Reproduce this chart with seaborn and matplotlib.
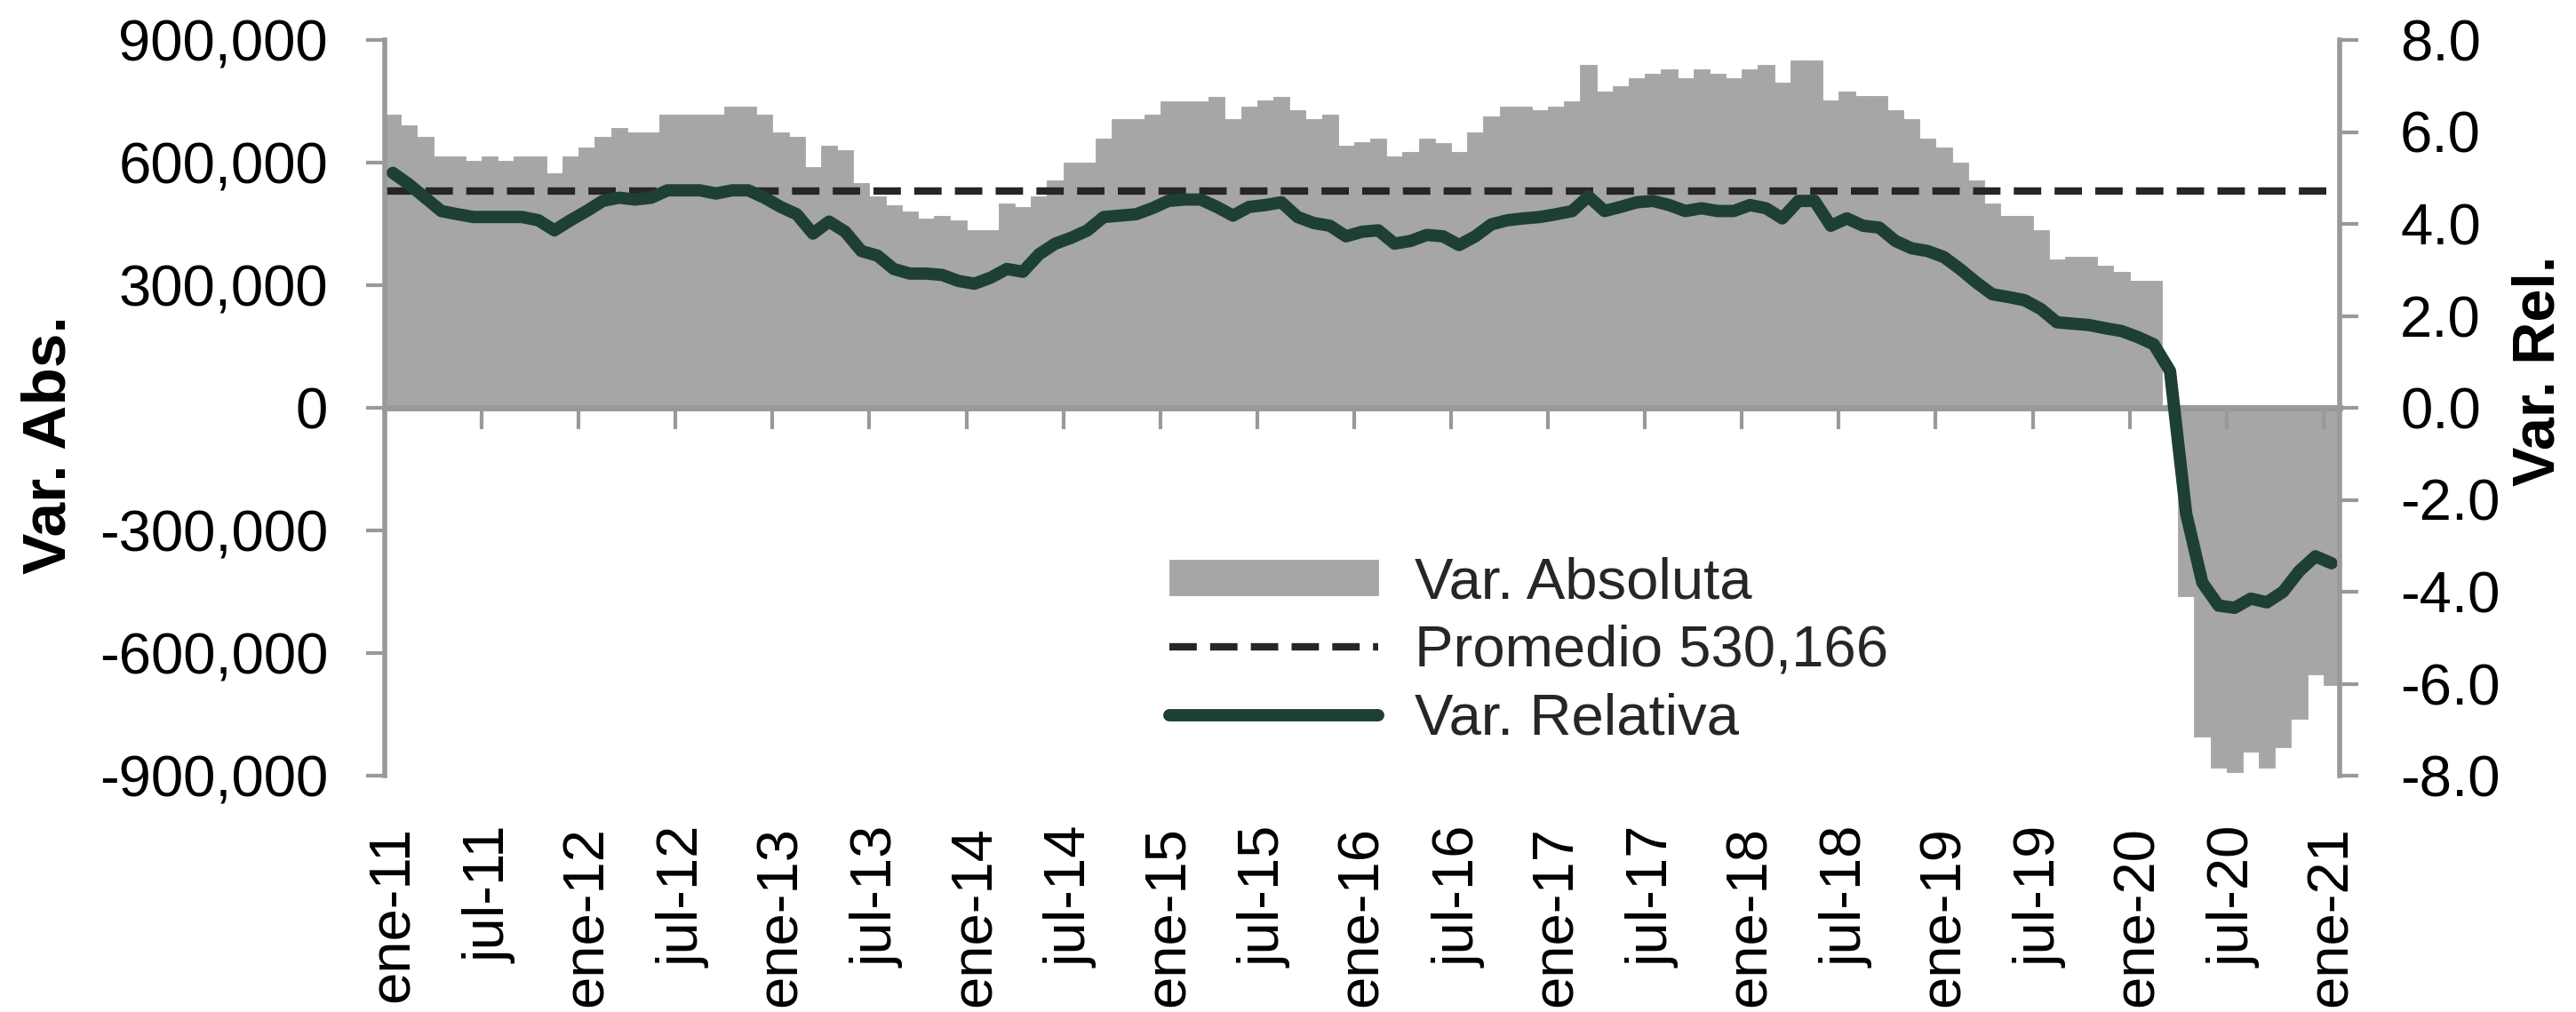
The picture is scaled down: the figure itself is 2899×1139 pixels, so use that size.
import numpy as np
import pandas as pd
import seaborn as sns
import matplotlib.pyplot as plt
from matplotlib.ticker import FuncFormatter

# Variación anual mensual, ene-11 a ene-21
# variación absoluta en miles de puestos
var_abs_miles = [
    717, 691, 662, 615, 615, 604, 615, 604, 615, 615, 575, 615,   # 2011
    637, 662, 684, 675, 675, 717, 717, 717, 717, 738, 738, 717,   # 2012
    675, 662, 590, 641, 630, 550, 517, 496, 481, 463, 470, 459,   # 2013
    434, 434, 499, 492, 517, 557, 601, 601, 659, 706, 706, 717,   # 2014
    749, 749, 749, 760, 706, 738, 753, 760, 728, 706, 717, 641,   # 2015
    650, 659, 615, 626, 659, 648, 626, 673, 713, 738, 738, 728,   # 2016
    738, 751, 840, 775, 786, 807, 818, 829, 807, 829, 818, 807,   # 2017
    829, 840, 796, 851, 851, 753, 775, 764, 764, 728, 706, 659,   # 2018
    637, 601, 557, 499, 470, 470, 434, 362, 369, 369, 347, 333,   # 2019
    311, 311, 0, -461, -804, -880, -891, -841, -880, -830, -761, -652,  # 2020
    -678,                                                          # 2021
]
# variación relativa (%)
var_rel = [
    5.11, 4.86, 4.57, 4.28, 4.21, 4.15, 4.15, 4.15, 4.15, 4.08, 3.86, 4.08,
    4.28, 4.50, 4.57, 4.53, 4.57, 4.73, 4.73, 4.73, 4.66, 4.73, 4.73, 4.57,
    4.37, 4.21, 3.79, 4.05, 3.83, 3.41, 3.31, 3.02, 2.92, 2.92, 2.89, 2.76,
    2.70, 2.83, 3.02, 2.96, 3.34, 3.57, 3.70, 3.86, 4.15, 4.18, 4.21, 4.34,
    4.50, 4.53, 4.53, 4.37, 4.18, 4.37, 4.41, 4.47, 4.15, 4.02, 3.96, 3.73,
    3.83, 3.86, 3.57, 3.63, 3.76, 3.73, 3.54, 3.73, 3.99, 4.08, 4.12, 4.15,
    4.21, 4.28, 4.60, 4.28, 4.37, 4.47, 4.50, 4.41, 4.28, 4.34, 4.28, 4.28,
    4.41, 4.34, 4.12, 4.50, 4.50, 3.96, 4.12, 3.96, 3.92, 3.63, 3.47, 3.41,
    3.28, 3.02, 2.73, 2.47, 2.41, 2.34, 2.15, 1.86, 1.83, 1.80, 1.73, 1.67,
    1.54, 1.38, 0.80, -2.30, -3.80, -4.30, -4.35, -4.15, -4.23, -4.00, -3.55, -3.23,
    -3.38,
]
promedio = 530166

etiquetas = ['ene-11', 'jul-11', 'ene-12', 'jul-12', 'ene-13', 'jul-13', 'ene-14',
             'jul-14', 'ene-15', 'jul-15', 'ene-16', 'jul-16', 'ene-17', 'jul-17',
             'ene-18', 'jul-18', 'ene-19', 'jul-19', 'ene-20', 'jul-20', 'ene-21']

GRIS = '#a6a6a6'
VERDE = '#1e4033'
EJE = '#999999'
FS = 47

df = pd.DataFrame({
    'mes': np.arange(len(var_abs_miles)),
    'abs': np.array(var_abs_miles) * 1000,
    'rel': var_rel,
})

sns.set_theme(style='white')
plt.rcParams['font.family'] = ['Liberation Sans', 'DejaVu Sans']

fig = plt.figure(figsize=(28.99, 11.39), dpi=100)
ax = fig.add_axes([433 / 2899, 1 - 873 / 1139, 2200 / 2899, 828 / 1139])

sns.barplot(data=df, x='mes', y='abs', ax=ax, native_scale=True, width=1.0,
            color=GRIS, saturation=1, errorbar=None, edgecolor=GRIS,
            linewidth=0.6, label='Var. Absoluta', zorder=1)
ax.axhline(promedio, color='#262626', lw=6, dashes=(3.7, 1.8),
           label='Promedio 530,166', zorder=2)

ax.set_xlim(-0.5, len(df) - 0.5)
ax.set_ylim(-900000, 900000)
ax.set_yticks(np.arange(-900000, 900001, 300000))
ax.yaxis.set_major_formatter(FuncFormatter(lambda v, p: f'{v:,.0f}'))
ax.set_xticks(np.arange(0, len(df), 6))
ax.set_xticklabels(etiquetas, rotation=90)
ax.tick_params(axis='x', length=0, pad=41, labelsize=FS, colors='black')
ax.tick_params(axis='y', direction='out', length=15, width=3, color=EJE,
               pad=31, labelsize=FS, labelcolor='black', left=True)
for s in ['top', 'right', 'bottom']:
    ax.spines[s].set_visible(False)
ax.spines['left'].set_color(EJE)
ax.spines['left'].set_linewidth(4)
ax.set_xlabel('')
ax.set_ylabel('Var. Abs.', fontsize=50, fontweight='bold', color='black')
ax.yaxis.set_label_coords(-0.157, 0.45)

# eje de categorías cruzando en cero
y0, y1 = ax.get_ylim()
sec = ax.secondary_xaxis((0 - y0) / (y1 - y0))
sec.set_alignment('bottom')
sec.set_xticks(np.arange(0, len(df) + 1, 6) - 0.5)
sec.tick_params(axis='x', direction='out', length=17, width=3, color=EJE,
                labelbottom=False, labeltop=False)
sec.spines['bottom'].set_color(EJE)
sec.spines['bottom'].set_linewidth(5)
sec.set_zorder(3)

ax2 = ax.twinx()
sns.lineplot(data=df, x='mes', y='rel', ax=ax2, color=VERDE, linewidth=10,
             errorbar=None, label='Var. Relativa', solid_joinstyle='round')
ax2.set_ylim(-8, 8)
ax2.set_yticks(np.arange(-8, 8.1, 2))
ax2.yaxis.set_major_formatter(FuncFormatter(lambda v, p: f'{v:.1f}'))
ax2.tick_params(axis='y', direction='out', length=15, width=3, color=EJE,
                pad=34, labelsize=FS, labelcolor='black', right=True)
for s in ['top', 'left', 'bottom']:
    ax2.spines[s].set_visible(False)
ax2.spines['right'].set_color(EJE)
ax2.spines['right'].set_linewidth(4)
ax2.set_xlabel('')
ax2.set_ylabel('Var. Rel.', fontsize=48, fontweight='bold', color='black')
ax2.yaxis.set_label_coords(1.088, 0.55)

for a in (ax, ax2):
    if a.get_legend() is not None:
        a.get_legend().remove()

h1, l1 = ax.get_legend_handles_labels()
h2, l2 = ax2.get_legend_handles_labels()
hmap = dict(zip(l1 + l2, h1 + h2))
orden = ['Var. Absoluta', 'Promedio 530,166', 'Var. Relativa']
ax2.legend([hmap[k] for k in orden], orden, loc='upper left',
           bbox_to_anchor=(1316 / 2899, 1 - 626 / 1139),
           bbox_transform=fig.transFigure, frameon=False, fontsize=FS,
           handlelength=3.6, handletextpad=0.63, labelspacing=0.26,
           borderpad=0, borderaxespad=0, handleheight=0.57)

fig.savefig('out.png', dpi=100)
